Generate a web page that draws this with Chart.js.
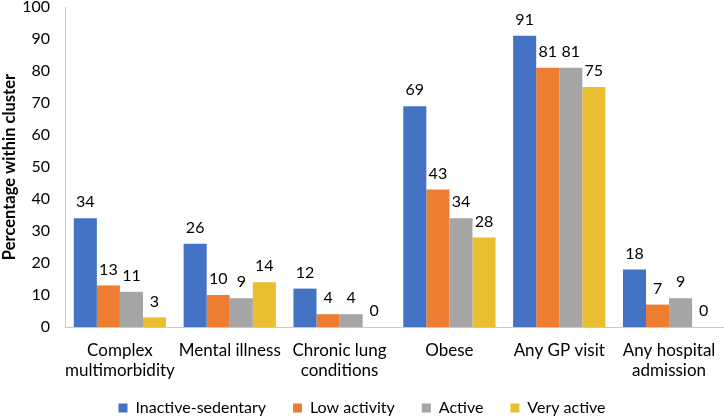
<!DOCTYPE html>
<html>
<head>
<meta charset="utf-8">
<script src="https://cdn.jsdelivr.net/npm/chart.js"></script>
<style>
  html, body { margin: 0; padding: 0; background: #fff; }
  #wrap { width: 724px; height: 418px; }
</style>
</head>
<body>
<div id="wrap"><canvas id="chart"></canvas></div>
<script>
const categories = [
  ['Complex', 'multimorbidity'],
  'Mental illness',
  ['Chronic lung', 'conditions'],
  'Obese',
  'Any GP visit',
  ['Any hospital', 'admission']
];
const inactiveSedentary = [34, 26, 12, 69, 91, 18];
const lowActivity = [13, 10, 4, 43, 81, 7];
const active = [11, 9, 4, 34, 81, 9];
const veryActive = [3, 14, 0, 28, 75, 0];
const yTicks = [0, 10, 20, 30, 40, 50, 60, 70, 80, 90, 100];

const FONT = 'Lato, "Open Sans", sans-serif';

// value labels above each bar
const barLabels = {
  id: 'barLabels',
  afterDatasetsDraw(chart) {
    const ctx = chart.ctx;
    ctx.save();
    ctx.font = '16px ' + FONT;
    ctx.fillStyle = '#000';
    ctx.textAlign = 'center';
    ctx.textBaseline = 'bottom';
    chart.data.datasets.forEach((ds, i) => {
      chart.getDatasetMeta(i).data.forEach((bar, j) => {
        ctx.fillText(ds.data[j], bar.x, bar.y - 8);
      });
    });
    ctx.restore();
  }
};

// legend takes little room in the layout, then gets moved up to sit at the bottom
const legendPlace = {
  id: 'legendPlace',
  beforeLayout(chart) {
    const lg = chart.legend;
    if (lg && !lg._wrapped) {
      const fit = lg.fit;
      lg.fit = function () { fit.call(this); this.height = 21; };
      lg._wrapped = true;
    }
  },
  afterLayout(chart) {
    chart.legend.top = chart.height - 45;
  }
};

new Chart(document.getElementById('chart').getContext('2d'), {
  type: 'bar',
  data: {
    labels: categories,
    datasets: [
      { label: 'Inactive-sedentary', data: inactiveSedentary, backgroundColor: '#4472C4' },
      { label: 'Low activity', data: lowActivity, backgroundColor: '#ED7D31' },
      { label: 'Active', data: active, backgroundColor: '#A5A5A5' },
      { label: 'Very active', data: veryActive, backgroundColor: '#E9BE30' }
    ]
  },
  options: {
    responsive: true,
    maintainAspectRatio: false,
    animation: false,
    layout: { padding: 0 },
    datasets: { bar: { categoryPercentage: 0.84, barPercentage: 1 } },
    plugins: {
      legend: {
        position: 'bottom',
        labels: {
          font: { family: FONT, size: 16 },
          color: '#000',
          boxWidth: 9,
          boxHeight: 9,
          padding: 27
        }
      },
      tooltip: { enabled: false }
    },
    scales: {
      x: {
        grid: { display: false, drawTicks: false },
        border: { color: '#c8c8c8', width: 1 },
        ticks: { font: { family: FONT, size: 17 }, color: '#000', padding: 13, maxRotation: 0, autoSkip: false },
        afterFit(axis) { axis.height = 70; axis.paddingLeft = 0; axis.paddingRight = 0; }
      },
      y: {
        min: 0,
        max: 100,
        afterBuildTicks(axis) { axis.ticks = yTicks.map(v => ({ value: v })); },
        grid: { display: false, drawTicks: false },
        border: { color: '#c8c8c8', width: 1 },
        ticks: { font: { family: FONT, size: 16 }, color: '#000', padding: 15 },
        title: {
          display: true,
          text: 'Percentage within cluster',
          font: { family: FONT, size: 16.5, weight: 'bold' },
          color: '#000',
          padding: { top: 0, bottom: 0 }
        },
        afterFit(axis) { axis.width = 65; axis.paddingTop = 7; axis.paddingBottom = 0; }
      }
    }
  },
  plugins: [barLabels, legendPlace]
});
</script>
</body>
</html>
